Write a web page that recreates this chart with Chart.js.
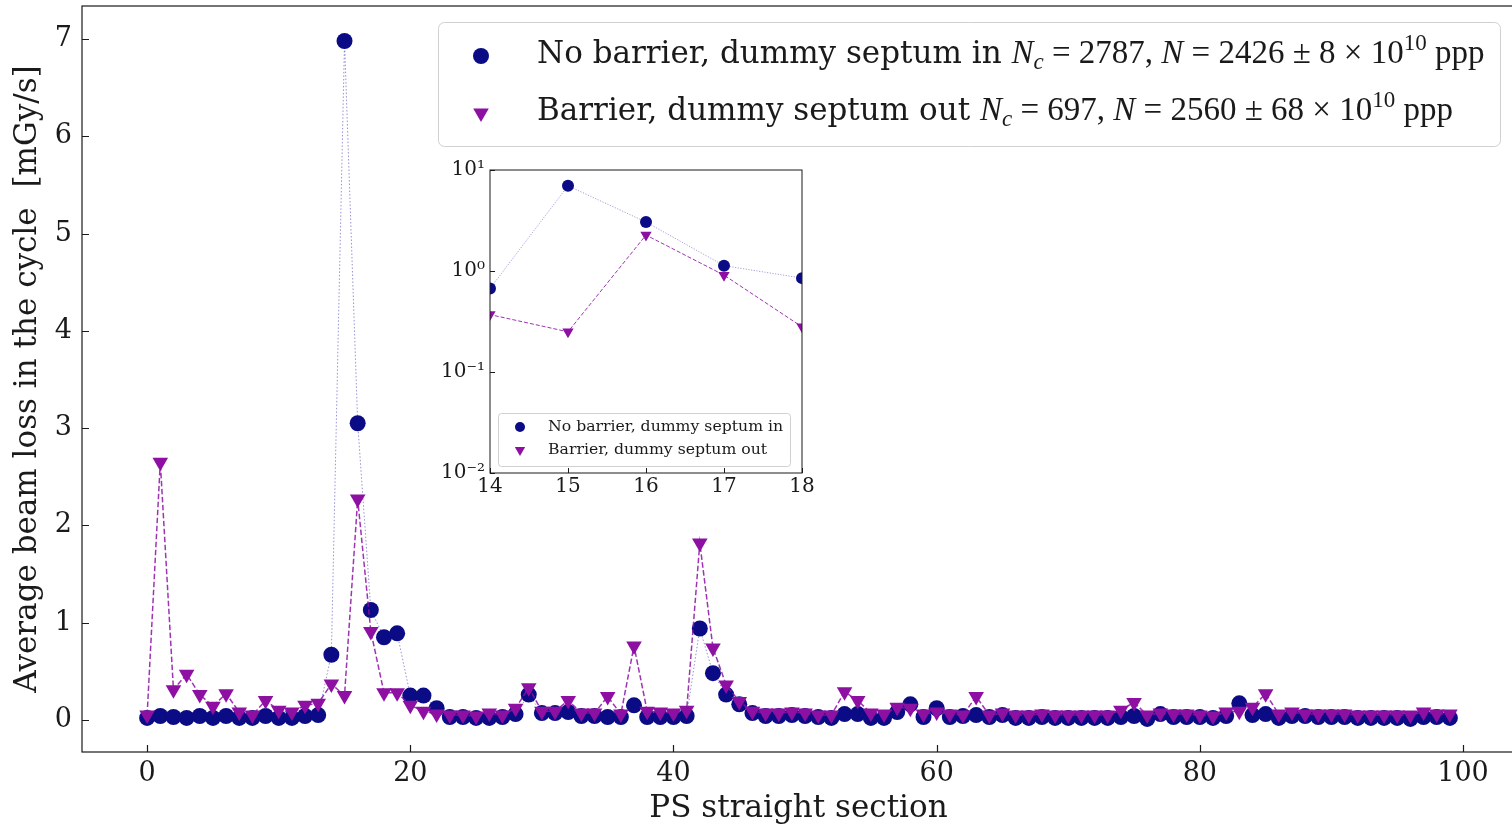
<!DOCTYPE html>
<html>
<head>
<meta charset="utf-8">
<script src="https://cdn.jsdelivr.net/npm/chart.js@4.4.1/dist/chart.umd.min.js"></script>
<style>
  html, body { margin: 0; padding: 0; background: #fff; overflow: hidden; }
  #main { position: absolute; left: 0; top: 0; }
  #inset { position: absolute; left: 430px; top: 150px; }
</style>
</head>
<body>
<canvas id="main" width="1520" height="830"></canvas>
<canvas id="inset" width="390" height="350"></canvas>
<script>
// PS straight sections 0..99
const sections = [
  0, 1, 2, 3, 4, 5, 6, 7, 8, 9, 10, 11, 12, 13, 14, 15, 16, 17, 18, 19,
  20, 21, 22, 23, 24, 25, 26, 27, 28, 29, 30, 31, 32, 33, 34, 35, 36, 37, 38, 39,
  40, 41, 42, 43, 44, 45, 46, 47, 48, 49, 50, 51, 52, 53, 54, 55, 56, 57, 58, 59,
  60, 61, 62, 63, 64, 65, 66, 67, 68, 69, 70, 71, 72, 73, 74, 75, 76, 77, 78, 79,
  80, 81, 82, 83, 84, 85, 86, 87, 88, 89, 90, 91, 92, 93, 94, 95, 96, 97, 98, 99
];

// average beam loss [mGy/s], no barrier, dummy septum in
const noBarrier = [
  0.02, 0.04, 0.03, 0.02, 0.04, 0.02, 0.04, 0.02, 0.02, 0.04,
  0.02, 0.02, 0.04, 0.05, 0.67, 6.98, 3.05, 1.13, 0.85, 0.89,
  0.25, 0.25, 0.12, 0.03, 0.03, 0.02, 0.02, 0.03, 0.06, 0.26,
  0.07, 0.07, 0.08, 0.04, 0.04, 0.03, 0.03, 0.15, 0.03, 0.03,
  0.03, 0.04, 0.94, 0.48, 0.26, 0.16, 0.07, 0.04, 0.04, 0.05,
  0.04, 0.03, 0.02, 0.06, 0.06, 0.02, 0.02, 0.08, 0.16, 0.03,
  0.12, 0.03, 0.04, 0.05, 0.03, 0.05, 0.02, 0.02, 0.03, 0.02,
  0.02, 0.02, 0.02, 0.02, 0.03, 0.04, 0.01, 0.06, 0.03, 0.03,
  0.03, 0.02, 0.04, 0.17, 0.05, 0.06, 0.02, 0.04, 0.04, 0.03,
  0.03, 0.03, 0.02, 0.02, 0.02, 0.02, 0.01, 0.03, 0.03, 0.02
];

// average beam loss [mGy/s], barrier, dummy septum out
const barrier = [
  0.05, 2.65, 0.31, 0.47, 0.26, 0.14, 0.27, 0.08, 0.05, 0.20,
  0.10, 0.08, 0.15, 0.17, 0.37, 0.25, 2.27, 0.91, 0.28, 0.28,
  0.15, 0.09, 0.06, 0.05, 0.05, 0.04, 0.07, 0.05, 0.12, 0.33,
  0.09, 0.09, 0.20, 0.07, 0.07, 0.24, 0.06, 0.76, 0.09, 0.08,
  0.07, 0.10, 1.82, 0.74, 0.36, 0.19, 0.09, 0.07, 0.07, 0.08,
  0.07, 0.05, 0.05, 0.29, 0.20, 0.07, 0.06, 0.13, 0.12, 0.06,
  0.08, 0.06, 0.05, 0.24, 0.05, 0.07, 0.05, 0.05, 0.06, 0.05,
  0.05, 0.05, 0.05, 0.05, 0.10, 0.18, 0.05, 0.07, 0.06, 0.06,
  0.05, 0.04, 0.08, 0.09, 0.13, 0.27, 0.06, 0.08, 0.06, 0.06,
  0.06, 0.06, 0.05, 0.05, 0.05, 0.05, 0.05, 0.08, 0.06, 0.06
];

const seriesLabels = ['No barrier, dummy septum in', 'Barrier, dummy septum out'];
const cycleCounts = ['2787', '697'];
const intensities = ['2426', '2560'];
const intensityErrors = ['8', '68'];

const xTicks = [0, 20, 40, 60, 80, 100];
const yTicks = [0, 1, 2, 3, 4, 5, 6, 7];
const insetXTicks = [14, 15, 16, 17, 18];
const insetYTicks = [0.01, 0.1, 1, 10];
const insetYLabels = ['10\u207b\u00b2', '10\u207b\u00b9', '10\u2070', '10\u00b9'];

const xTitle = 'PS straight section';
const yTitle = 'Average beam loss in the cycle  [mGy/s]';

const NAVY = '#0b0b86';
const MAGENTA = '#8d10a3';
const SERIF = 'DejaVu Serif';
const MATH = 'Liberation Serif';

const points = vals => sections.map((s, i) => ({ x: s, y: vals[i] }));

// matplotlib-like frame with inward ticks
const frameTicks = {
  id: 'frameTicks',
  beforeDatasetsDraw(chart) {
    const { ctx, chartArea: a } = chart;
    ctx.save();
    ctx.fillStyle = '#fff';
    ctx.fillRect(a.left, a.top, a.right - a.left, a.bottom - a.top);
    ctx.restore();
  },
  afterDatasetsDraw(chart, args, opts) {
    const { ctx, chartArea: a, scales: { x, y } } = chart;
    const len = opts.len || 7;
    ctx.save();
    ctx.strokeStyle = '#1a1a1a';
    ctx.lineWidth = opts.width || 1.2;
    ctx.strokeRect(a.left, a.top, a.right - a.left, a.bottom - a.top);
    ctx.beginPath();
    x.ticks.forEach(t => {
      const px = Math.round(x.getPixelForValue(t.value)) + 0.5;
      ctx.moveTo(px, a.bottom);
      ctx.lineTo(px, a.bottom - len);
    });
    y.ticks.forEach(t => {
      const py = Math.round(y.getPixelForValue(t.value)) + 0.5;
      ctx.moveTo(a.left, py);
      ctx.lineTo(a.left + len, py);
    });
    ctx.stroke();
    ctx.restore();
  }
};

function drawMarker(ctx, kind, x, y, r, color) {
  ctx.fillStyle = color;
  ctx.beginPath();
  if (kind === 'circle') {
    ctx.arc(x, y, r, 0, Math.PI * 2);
  } else {
    ctx.moveTo(x, y + r);
    ctx.lineTo(x - r * 0.866, y - r * 0.5);
    ctx.lineTo(x + r * 0.866, y - r * 0.5);
    ctx.closePath();
  }
  ctx.fill();
}

function drawRuns(ctx, x, y, runs) {
  runs.forEach(r => {
    ctx.font = r.font;
    ctx.fillText(r.t, x, y + (r.dy || 0));
    x += ctx.measureText(r.t).width;
  });
}

function roundBox(ctx, x, y, w, h, r) {
  ctx.beginPath();
  ctx.moveTo(x + r, y);
  ctx.arcTo(x + w, y, x + w, y + h, r);
  ctx.arcTo(x + w, y + h, x, y + h, r);
  ctx.arcTo(x, y + h, x, y, r);
  ctx.arcTo(x, y, x + w, y, r);
  ctx.closePath();
}

const mainLegend = {
  id: 'mainLegend',
  afterDraw(chart) {
    const ctx = chart.ctx;
    ctx.save();
    roundBox(ctx, 438.5, 22.5, 1062, 124, 6);
    ctx.fillStyle = 'rgba(255,255,255,0.85)';
    ctx.fill();
    ctx.strokeStyle = '#d0d0d0';
    ctx.lineWidth = 1;
    ctx.stroke();
    const rows = [56, 113];
    const kinds = ['circle', 'triangle'];
    const colors = [NAVY, MAGENTA];
    const rm = `31px "${SERIF}"`;
    const mr = `33px "${MATH}"`;
    const it = `italic 33px "${MATH}"`;
    const sub = `italic 23px "${MATH}"`;
    const sup = `23px "${MATH}"`;
    ctx.textBaseline = 'alphabetic';
    rows.forEach((ry, i) => {
      drawMarker(ctx, kinds[i], 481, ry, kinds[i] === 'circle' ? 8 : 9, colors[i]);
      ctx.fillStyle = '#1a1a1a';
      drawRuns(ctx, 537, ry + 7, [
        { t: seriesLabels[i] + ' ', font: rm },
        { t: 'N', font: it },
        { t: 'c', font: sub, dy: 6 },
        { t: ' = ' + cycleCounts[i] + ', ', font: mr },
        { t: 'N', font: it },
        { t: ' = ' + intensities[i] + ' \u00b1 ' + intensityErrors[i] + ' \u00d7 10', font: mr },
        { t: '10', font: sup, dy: -13 },
        { t: ' ppp', font: mr }
      ]);
    });
    ctx.restore();
  }
};

const insetLegend = {
  id: 'insetLegend',
  afterDraw(chart) {
    const ctx = chart.ctx;
    const ox = 430, oy = 150;
    ctx.save();
    roundBox(ctx, 498.5 - ox, 413.5 - oy, 292, 53, 3);
    ctx.fillStyle = 'rgba(255,255,255,0.85)';
    ctx.fill();
    ctx.strokeStyle = '#d0d0d0';
    ctx.lineWidth = 1;
    ctx.stroke();
    const rows = [427, 450];
    const kinds = ['circle', 'triangle'];
    const colors = [NAVY, MAGENTA];
    ctx.font = `15.7px "${SERIF}"`;
    ctx.textBaseline = 'middle';
    rows.forEach((ry, i) => {
      drawMarker(ctx, kinds[i], 520 - ox, ry - oy, kinds[i] === 'circle' ? 5 : 6, colors[i]);
      ctx.fillStyle = '#1a1a1a';
      ctx.fillText(seriesLabels[i], 548 - ox, ry - oy);
    });
    ctx.restore();
  }
};

const tickFont = size => ({ family: SERIF, size: size });
const fitX = h => s => { s.height = h; s.paddingLeft = 0; s.paddingRight = 0; };
const fitY = w => s => { s.width = w; s.paddingTop = 0; s.paddingBottom = 0; };

new Chart(document.getElementById('main'), {
  type: 'line',
  data: {
    datasets: [
      {
        label: seriesLabels[0],
        data: points(noBarrier),
        borderColor: 'rgba(40,40,170,0.5)',
        borderWidth: 1,
        borderDash: [1.5, 2],
        pointStyle: 'circle',
        pointRadius: 8,
        pointBackgroundColor: NAVY,
        pointBorderColor: NAVY,
        pointBorderWidth: 0,
        order: 1
      },
      {
        label: seriesLabels[1],
        data: points(barrier),
        borderColor: 'rgba(141,16,163,0.85)',
        borderWidth: 1.5,
        borderDash: [5.5, 2.5],
        pointStyle: 'triangle',
        pointRotation: 180,
        pointRadius: 9,
        pointBackgroundColor: MAGENTA,
        pointBorderColor: MAGENTA,
        pointBorderWidth: 0,
        order: 0
      }
    ]
  },
  options: {
    responsive: false,
    animation: false,
    layout: { autoPadding: false, padding: { top: 6, right: 5, left: 0, bottom: 0 } },
    plugins: {
      legend: { display: false },
      tooltip: { enabled: false },
      frameTicks: { len: 7, width: 1.2 }
    },
    scales: {
      x: {
        type: 'linear',
        min: -4.95,
        max: 103.95,
        afterBuildTicks: s => { s.ticks = xTicks.map(v => ({ value: v })); },
        afterFit: fitX(78),
        grid: { display: false, drawTicks: false },
        border: { display: false },
        ticks: { font: tickFont(27), color: '#1a1a1a', padding: 6, maxRotation: 0 },
        title: { display: true, text: xTitle, font: tickFont(31), color: '#1a1a1a', padding: { top: 0, bottom: 2 } }
      },
      y: {
        type: 'linear',
        min: -0.33,
        max: 7.34,
        afterBuildTicks: s => { s.ticks = yTicks.map(v => ({ value: v })); },
        afterFit: fitY(82),
        grid: { display: false, drawTicks: false },
        border: { display: false },
        ticks: { font: tickFont(27), color: '#1a1a1a', padding: 10 },
        title: { display: true, text: yTitle, font: tickFont(31), color: '#1a1a1a', padding: { top: 9, bottom: 0 } }
      }
    }
  },
  plugins: [frameTicks, mainLegend]
});

new Chart(document.getElementById('inset'), {
  type: 'line',
  data: {
    datasets: [
      {
        label: seriesLabels[0],
        data: points(noBarrier),
        borderColor: 'rgba(40,40,170,0.55)',
        borderWidth: 0.8,
        borderDash: [1.2, 1.5],
        pointStyle: 'circle',
        pointRadius: 6,
        pointBackgroundColor: NAVY,
        pointBorderColor: NAVY,
        pointBorderWidth: 0,
        clip: 0,
        order: 1
      },
      {
        label: seriesLabels[1],
        data: points(barrier),
        borderColor: 'rgba(141,16,163,0.85)',
        borderWidth: 1,
        borderDash: [4, 2],
        pointStyle: 'triangle',
        pointRotation: 180,
        pointRadius: 6.5,
        pointBackgroundColor: MAGENTA,
        pointBorderColor: MAGENTA,
        pointBorderWidth: 0,
        clip: 0,
        order: 0
      }
    ]
  },
  options: {
    responsive: false,
    animation: false,
    layout: { autoPadding: false, padding: { top: 20, right: 18, left: 0, bottom: 0 } },
    plugins: {
      legend: { display: false },
      tooltip: { enabled: false },
      frameTicks: { len: 5, width: 1 }
    },
    scales: {
      x: {
        type: 'linear',
        min: 14,
        max: 18,
        afterBuildTicks: s => { s.ticks = insetXTicks.map(v => ({ value: v })); },
        afterFit: fitX(27),
        grid: { display: false, drawTicks: false },
        border: { display: false },
        ticks: { font: tickFont(20), color: '#1a1a1a', padding: 2, maxRotation: 0 }
      },
      y: {
        type: 'logarithmic',
        min: 0.01,
        max: 10,
        afterBuildTicks: s => { s.ticks = insetYTicks.map(v => ({ value: v })); },
        afterFit: fitY(60),
        grid: { display: false, drawTicks: false },
        border: { display: false },
        ticks: {
          font: tickFont(20),
          color: '#1a1a1a',
          padding: 5,
          callback: v => insetYLabels[insetYTicks.indexOf(v)]
        }
      }
    }
  },
  plugins: [frameTicks, insetLegend]
});
</script>
</body>
</html>
